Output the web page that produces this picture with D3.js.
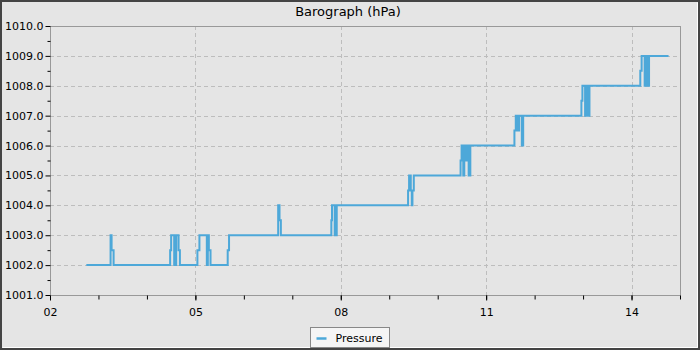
<!DOCTYPE html>
<html>
<head>
<meta charset="utf-8">
<script src="https://cdn.jsdelivr.net/npm/d3@7"></script>
<style>
  body { margin: 0; background: #e5e5e5; }
  svg { display: block; font-family: "DejaVu Sans", sans-serif; }
</style>
</head>
<body>
<div id="chart"></div>
<script>
// Data
const times = [
  "2023-01-02 18:00", "2023-01-03 06:00", "2023-01-03 06:30", "2023-01-03 07:30",
  "2023-01-04 11:30", "2023-01-04 12:00", "2023-01-04 13:30", "2023-01-04 14:30",
  "2023-01-04 15:40", "2023-01-04 16:20", "2023-01-05 01:00", "2023-01-05 02:00",
  "2023-01-05 05:40", "2023-01-05 06:10", "2023-01-05 06:40", "2023-01-05 07:30",
  "2023-01-05 16:00", "2023-01-05 16:40", "2023-01-06 17:00", "2023-01-06 17:40",
  "2023-01-06 18:20", "2023-01-07 19:20", "2023-01-07 19:40", "2023-01-07 21:00",
  "2023-01-07 22:00", "2023-01-09 09:20", "2023-01-09 09:50", "2023-01-09 10:40",
  "2023-01-09 11:10", "2023-01-09 11:30", "2023-01-09 12:10", "2023-01-10 11:20",
  "2023-01-10 11:50", "2023-01-10 12:40", "2023-01-10 13:10", "2023-01-10 14:00",
  "2023-01-10 14:40", "2023-01-10 15:20", "2023-01-10 16:10", "2023-01-11 14:00",
  "2023-01-11 14:40", "2023-01-11 15:30", "2023-01-11 16:20", "2023-01-11 17:40",
  "2023-01-11 18:20", "2023-01-12 23:10", "2023-01-12 23:40", "2023-01-13 01:00",
  "2023-01-13 01:40", "2023-01-13 02:40", "2023-01-13 03:10", "2023-01-14 04:20",
  "2023-01-14 05:00", "2023-01-14 06:30", "2023-01-14 07:10", "2023-01-14 07:50",
  "2023-01-14 08:40", "2023-01-14 18:20"
];
const pressure = [
  1002, 1003, 1002.5, 1002,
  1002.5, 1003, 1002, 1003,
  1002.5, 1002, 1002.5, 1003,
  1002, 1003, 1002.5, 1002,
  1002.5, 1003, 1004, 1003.5,
  1003, 1003.5, 1004, 1003,
  1004, 1004.5, 1005, 1004.5,
  1004, 1004.5, 1005, 1005.5,
  1006, 1005, 1006, 1005.5,
  1006, 1005, 1006, 1006.5,
  1007, 1006.5, 1007, 1006,
  1007, 1007.5, 1008, 1007,
  1008, 1007, 1008, 1008.5,
  1009, 1008, 1009, 1008,
  1009, 1009
];
const xTickLabels = ["2023-01-02", "2023-01-05", "2023-01-08", "2023-01-11", "2023-01-14"];
const yTicks = [1001, 1002, 1003, 1004, 1005, 1006, 1007, 1008, 1009, 1010];
const xDomain = ["2023-01-02", "2023-01-15"];

const parseTime = d3.timeParse("%Y-%m-%d %H:%M");
const parseDay = d3.timeParse("%Y-%m-%d");
const dataset = times.map((t, i) => ({ date: parseTime(t), value: pressure[i] }));

// Dimensions
const width = 700, height = 350;
const margin = { top: 26, right: 20, bottom: 55, left: 50 };
const ctrWidth = width - margin.left - margin.right;
const ctrHeight = height - margin.top - margin.bottom;

const svg = d3.select("#chart").append("svg")
  .attr("width", width)
  .attr("height", height);

// background + frame
svg.append("rect").attr("width", width).attr("height", height).attr("fill", "#e5e5e5");
svg.append("rect").attr("x", 1).attr("y", 1).attr("width", width - 2).attr("height", height - 2)
  .attr("fill", "none").attr("stroke", "#444").attr("stroke-width", 2);
svg.append("path").attr("d", `M2.5,${height - 2.5}H${width - 2.5}V2.5`)
  .attr("fill", "none").attr("stroke", "#fff").attr("stroke-width", 1);

// Scales
const xScale = d3.scaleTime()
  .domain(xDomain.map(parseDay))
  .range([0, ctrWidth]);
const yScale = d3.scaleLinear()
  .domain([1001, 1010])
  .range([ctrHeight, 0]);

const ctr = svg.append("g")
  .attr("transform", `translate(${margin.left}, ${margin.top})`);

// grid
ctr.append("g").selectAll("line")
  .data(yTicks.slice(1, -1))
  .join("line")
  .attr("x1", 0).attr("x2", ctrWidth)
  .attr("y1", d => Math.round(yScale(d)) + 0.5).attr("y2", d => Math.round(yScale(d)) + 0.5)
  .attr("stroke", "#bdbdbd").attr("stroke-dasharray", "4,3");
ctr.append("g").selectAll("line")
  .data(xTickLabels.slice(1).map(parseDay))
  .join("line")
  .attr("x1", d => Math.round(xScale(d)) + 0.5).attr("x2", d => Math.round(xScale(d)) + 0.5)
  .attr("y1", 0).attr("y2", ctrHeight)
  .attr("stroke", "#bdbdbd").attr("stroke-dasharray", "4,3");

// line
const lineGenerator = d3.line()
  .x(d => xScale(d.date))
  .y(d => yScale(d.value))
  .curve(d3.curveStepAfter);
ctr.append("path")
  .datum(dataset)
  .attr("d", lineGenerator)
  .attr("fill", "none")
  .attr("stroke", "#4da8d9")
  .attr("stroke-width", 2);

// frame of plot
ctr.append("rect")
  .attr("x", 0.5).attr("y", 0.5)
  .attr("width", ctrWidth).attr("height", ctrHeight)
  .attr("fill", "none").attr("stroke", "#999");

// Axes
const minorY = d3.range(1001.5, 1010, 1);
const yAxis = d3.axisLeft(yScale).tickValues(yTicks).tickFormat(d3.format(".1f")).tickSize(5).tickPadding(2);
const gY = ctr.append("g").attr("transform", "translate(0.5,0)").call(yAxis);
gY.append("g").selectAll("line").data(minorY).join("line")
  .attr("x1", -3).attr("x2", 0)
  .attr("y1", d => yScale(d) + 0.5).attr("y2", d => yScale(d) + 0.5)
  .attr("stroke", "#000");

const minorX = d3.timeDay.range(parseDay("2023-01-03"), parseDay("2023-01-16"));
const xAxis = d3.axisBottom(xScale)
  .tickValues(xTickLabels.map(parseDay))
  .tickFormat(d3.timeFormat("%d"))
  .tickSize(5).tickPadding(8);
const gX = ctr.append("g").attr("transform", `translate(0,${ctrHeight + 0.5})`).call(xAxis);
gX.append("g").selectAll("line").data(minorX).join("line")
  .attr("x1", d => xScale(d) + 0.5).attr("x2", d => xScale(d) + 0.5)
  .attr("y1", 0).attr("y2", 4)
  .attr("stroke", "#000");

[gX, gY].forEach(g => {
  g.select(".domain").remove();
  g.selectAll(".tick line").attr("stroke", "#000");
  g.selectAll(".tick text").attr("fill", "#000").style("font-size", "11px")
    .style("font-family", "DejaVu Sans, sans-serif");
});

// Title
svg.append("text")
  .attr("x", 348).attr("y", 16)
  .attr("text-anchor", "middle")
  .style("font-size", "13px")
  .attr("fill", "#000")
  .text("Barograph (hPa)");

// Legend
const legend = svg.append("g").attr("transform", "translate(310.5,327.5)");
legend.append("rect").attr("width", 79).attr("height", 20)
  .attr("fill", "#f5f5f5").attr("stroke", "#888");
legend.append("line").attr("x1", 6).attr("x2", 16).attr("y1", 11).attr("y2", 11)
  .attr("stroke", "#4da8d9").attr("stroke-width", 2.5);
legend.append("text").attr("x", 25).attr("y", 14)
  .style("font-size", "11px").attr("fill", "#000").text("Pressure");
</script>
</body>
</html>
